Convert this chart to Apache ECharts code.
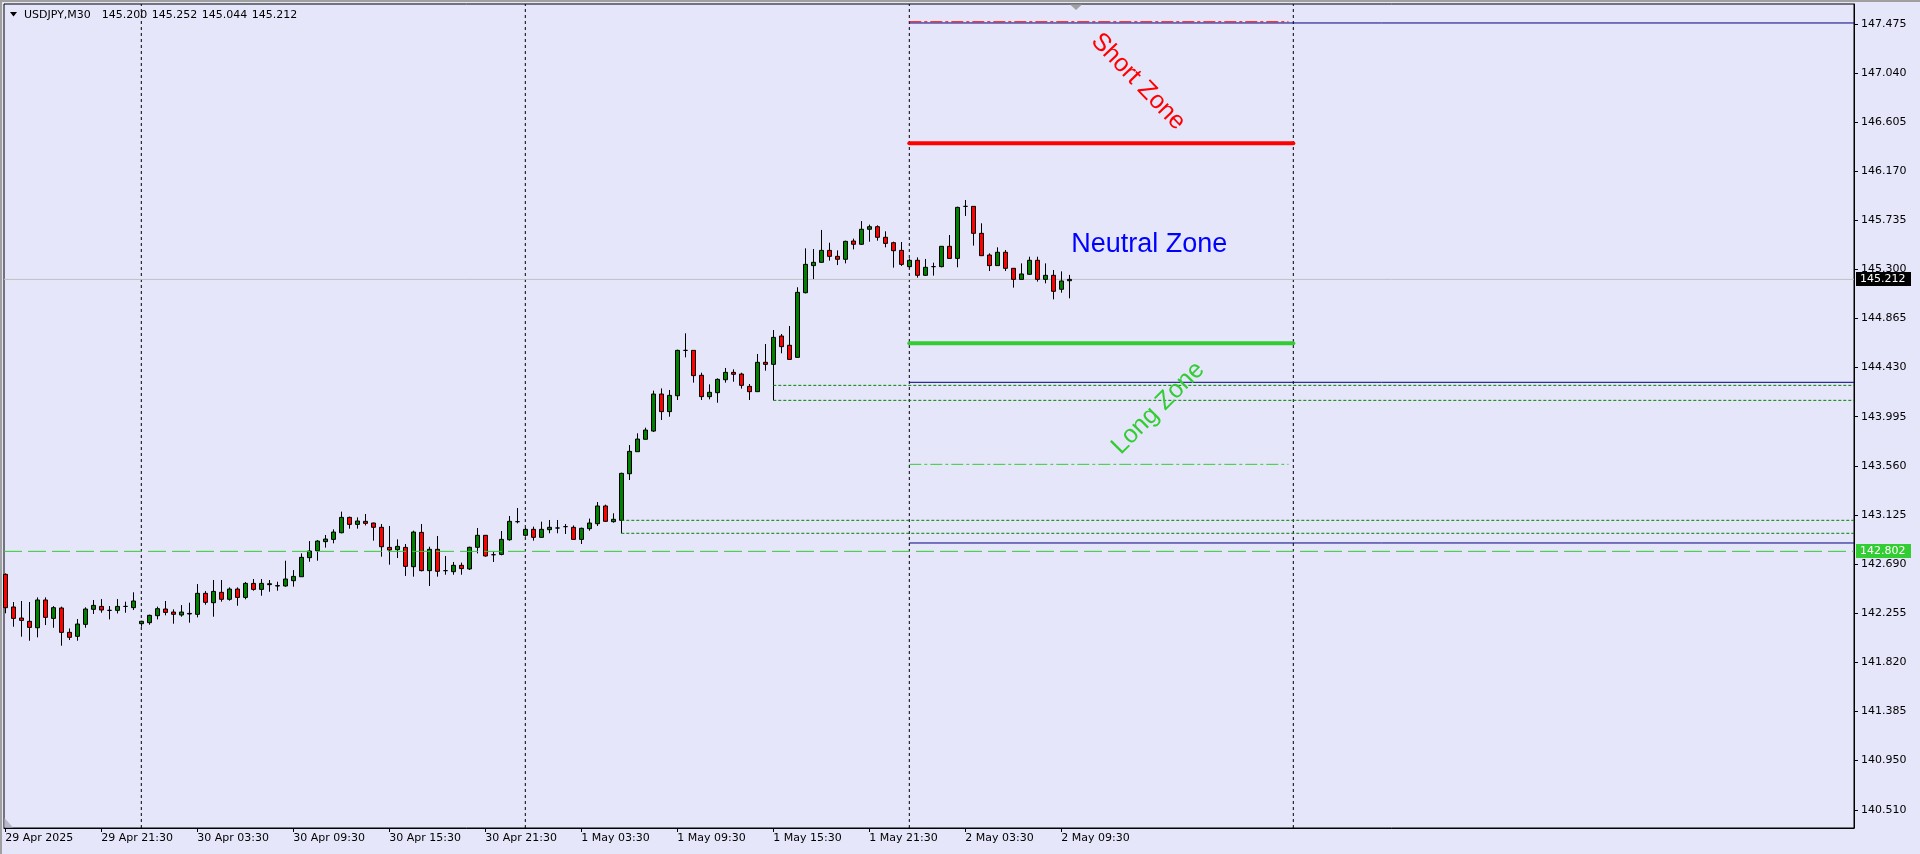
<!DOCTYPE html>
<html><head><meta charset="utf-8">
<script src="https://cdn.jsdelivr.net/npm/echarts@6/dist/echarts.min.js"></script>
<style>html,body{margin:0;padding:0;background:#E6E6FA;overflow:hidden}#chart{width:1920px;height:854px}</style>
</head><body><div id="chart"></div>
<script>
// ---------- data ----------
const symbolTitle = 'USDJPY,M30';
const lastBar = [145.200, 145.252, 145.044, 145.212]; // O H L C
const timeLabels = ['29 Apr 2025','29 Apr 21:30','30 Apr 03:30','30 Apr 09:30','30 Apr 15:30','30 Apr 21:30','1 May 03:30','1 May 09:30','1 May 15:30','1 May 21:30','2 May 03:30','2 May 09:30'];
const timeLabelIdx = [0,12,24,36,48,60,72,84,96,108,120,132];
const priceTicks = [147.475,147.040,146.605,146.170,145.735,145.300,144.865,144.430,143.995,143.560,143.125,142.690,142.255,141.820,141.385,140.950,140.510];
const daySeparators = [17,65,113,161];

const opens = [142.598,142.309,142.211,142.182,142.125,142.371,142.208,142.300,142.084,142.049,
142.155,142.288,142.314,142.279,142.279,142.314,142.303,142.161,142.170,142.232,
142.291,142.264,142.238,142.247,142.244,142.430,142.347,142.439,142.377,142.468,
142.394,142.518,142.465,142.507,142.495,142.495,142.542,142.577,142.746,142.808,
142.888,142.908,142.967,143.103,143.041,143.068,143.053,143.015,142.837,142.817,
142.837,142.666,142.970,142.631,142.820,142.631,142.622,142.678,142.646,142.838,
142.944,142.772,142.775,142.905,143.065,142.944,142.997,142.926,142.994,143.009,
143.021,143.015,142.908,143.003,143.047,143.204,143.065,143.077,143.490,143.685,
143.795,143.868,144.196,144.040,144.181,144.583,144.583,144.362,144.173,144.208,
144.323,144.388,144.373,144.264,144.217,144.477,144.459,144.710,144.628,144.521,
145.094,145.334,145.363,145.469,145.416,145.390,145.552,145.523,145.656,145.679,
145.585,145.537,145.469,145.325,145.381,145.248,145.325,145.325,145.505,145.398,
145.859,145.859,145.620,145.428,145.334,145.452,145.310,145.212,145.257,145.381,
145.212,145.248,145.124,145.200];
const highs = [142.607,142.353,142.362,142.353,142.394,142.394,142.317,142.312,142.119,142.202,
142.306,142.371,142.379,142.317,142.379,142.356,142.439,142.187,142.241,142.312,
142.362,142.288,142.326,142.347,142.512,142.450,142.548,142.548,142.483,142.483,
142.530,142.557,142.557,142.548,142.533,142.719,142.636,142.784,142.893,142.902,
142.947,142.997,143.154,143.109,143.103,143.133,143.056,143.044,143.027,142.908,
142.867,142.985,143.044,142.843,142.938,142.761,142.708,142.702,142.843,143.009,
142.947,142.802,142.982,143.115,143.186,143.012,143.021,143.065,143.080,143.080,
143.044,143.032,143.012,143.092,143.239,143.216,143.139,143.499,143.744,143.848,
143.898,144.226,144.246,144.232,144.589,144.734,144.586,144.385,144.282,144.335,
144.427,144.415,144.385,144.285,144.551,144.639,144.763,144.728,144.799,145.142,
145.487,145.481,145.650,145.537,145.469,145.555,145.573,145.729,145.697,145.691,
145.638,145.546,145.543,145.398,145.407,145.393,145.360,145.508,145.605,145.856,
145.915,145.862,145.709,145.443,145.496,145.472,145.313,145.354,145.413,145.413,
145.354,145.295,145.283,145.252];
const lows = [142.253,142.134,142.046,142.010,142.040,142.149,142.125,141.966,142.016,142.010,
142.125,142.247,142.258,142.199,142.252,142.258,142.282,142.134,142.152,142.199,
142.235,142.161,142.223,142.170,142.217,142.329,142.223,142.356,142.365,142.320,
142.377,142.453,142.409,142.444,142.453,142.489,142.489,142.577,142.710,142.719,
142.835,142.873,142.962,143.003,143.003,143.032,142.897,142.755,142.684,142.743,
142.584,142.578,142.625,142.495,142.578,142.595,142.595,142.595,142.637,142.784,
142.755,142.708,142.767,142.897,143.050,142.932,142.897,142.926,142.962,142.962,
142.956,142.908,142.867,142.985,143.027,143.062,143.056,142.962,143.434,143.685,
143.795,143.860,143.966,143.995,144.143,144.521,144.297,144.143,144.149,144.119,
144.297,144.305,144.244,144.143,144.217,144.403,144.140,144.557,144.503,144.518,
145.088,145.215,145.360,145.378,145.339,145.354,145.478,145.517,145.546,145.555,
145.496,145.316,145.331,145.310,145.227,145.245,145.245,145.319,145.396,145.319,
145.774,145.511,145.422,145.286,145.334,145.286,145.139,145.212,145.254,145.192,
145.177,145.035,145.094,145.044];
const closes = [142.303,142.208,142.190,142.128,142.371,142.217,142.303,142.084,142.040,142.158,
142.291,142.323,142.282,142.279,142.314,142.314,142.362,142.182,142.235,142.294,
142.261,142.244,142.264,142.252,142.430,142.350,142.447,142.377,142.468,142.394,
142.518,142.465,142.518,142.515,142.498,142.557,142.580,142.749,142.805,142.893,
142.911,142.973,143.103,143.041,143.071,143.050,143.015,142.843,142.814,142.846,
142.669,142.973,142.631,142.820,142.625,142.631,142.678,142.649,142.838,142.944,
142.761,142.772,142.908,143.068,143.065,142.997,142.926,142.997,143.015,143.009,
143.021,142.908,143.006,143.053,143.204,143.068,143.086,143.493,143.688,143.797,
143.877,144.196,144.040,144.184,144.583,144.583,144.359,144.173,144.211,144.326,
144.388,144.371,144.273,144.217,144.477,144.459,144.698,144.616,144.503,145.097,
145.345,145.363,145.469,145.416,145.390,145.549,145.523,145.656,145.679,145.585,
145.531,145.466,145.345,145.381,145.248,145.319,145.325,145.505,145.398,145.850,
145.859,145.620,145.422,145.334,145.452,145.310,145.212,145.260,145.381,145.212,
145.248,145.106,145.198,145.212];

// drawn objects (levels in price, spans in bar index)
const zoneSpan = [113, 161];
const shortLevel = 146.418;
const longLevel = 144.646;
const dashDotLevels = [147.495, 143.573];
const navyRays = [147.484, 144.300, 142.876];     // from bar 113 to the right edge
const dottedRaysA = [144.273, 144.140];           // from bar 96
const dottedRaysB = [143.077, 142.962];           // from bar 77
const horizLine = 142.802;
const bidPrice = 145.212;
const zoneTexts = ['Short Zone', 'Neutral Zone', 'Long Zone'];
const zoneTextAnchors = [[141.6, 146.964], [143.0, 145.517], [144.1, 144.072]];

// ---------- chart ----------
const X_MIN = -0.1625, X_MAX = X_MIN + 1850 / 8;
const Y_MAX = 147.475 + 20 / 112.85, Y_MIN = Y_MAX - 824 / 112.85;
const LIME = '#32CD32';

const candleData = opens.map((o, i) => [i, o, closes[i], lows[i], highs[i]]);
const seg = (x1, x2, p) => [[x1, p], [x2, p]];
const lineSeries = (data, style, z) => ({
  type: 'line', data, symbol: 'none', silent: true, animation: false, z: z || 3,
  lineStyle: style, emphasis: { disabled: true }
});

const series = [];
daySeparators.forEach(x => series.push(lineSeries([[x, Y_MIN], [x, Y_MAX]], { color: '#000', width: 1, type: [3, 3] }, 1)));
series.push({
  type: 'candlestick', data: candleData, encode: { x: 0, y: [1, 2, 3, 4] }, barWidth: 4, z: 2,
  silent: true, animation: false,
  itemStyle: { color: '#008000', color0: '#FF0000', borderColor: '#000', borderColor0: '#000', borderColorDoji: '#000', borderWidth: 1 }
});
series.push(lineSeries(seg(X_MIN, X_MAX, bidPrice), { color: '#C0C0C0', width: 1 }, 2));
series.push(lineSeries(seg(X_MIN, X_MAX, horizLine), { color: LIME, width: 1, type: [18, 6] }));
navyRays.forEach(p => series.push(lineSeries(seg(zoneSpan[0], X_MAX, p), { color: '#000080', width: 1 })));
dottedRaysA.forEach(p => series.push(lineSeries(seg(96, X_MAX, p), { color: '#008000', width: 1, type: [3, 2] })));
dottedRaysB.forEach(p => series.push(lineSeries(seg(77, X_MAX, p), { color: '#008000', width: 1, type: [3, 2] })));
series.push(lineSeries(seg(zoneSpan[0], zoneSpan[1] - 0.6, dashDotLevels[0]), { color: '#FF0000', width: 1, type: [12, 3, 3, 3] }));
series.push(lineSeries(seg(zoneSpan[0], zoneSpan[1] - 0.6, dashDotLevels[1]), { color: LIME, width: 1, type: [12, 3, 3, 3] }));
series.push(lineSeries(seg(zoneSpan[0], zoneSpan[1], shortLevel), { color: '#FF0000', width: 4, cap: 'round' }, 4));
series.push(lineSeries(seg(zoneSpan[0], zoneSpan[1], longLevel), { color: LIME, width: 4, cap: 'round' }, 4));

const axisFont = { color: '#000', fontFamily: 'DejaVu Sans', fontSize: 11 };
const chart = echarts.init(document.getElementById('chart'));
chart.setOption({
  animation: false,
  backgroundColor: '#E6E6FA',
  grid: { left: 4, top: 4, width: 1850, height: 824, show: true, borderColor: '#000', borderWidth: 1, backgroundColor: 'transparent' },
  xAxis: {
    type: 'value', min: X_MIN, max: X_MAX, splitLine: { show: false },
    axisLine: { show: true, onZero: false, lineStyle: { color: '#000', width: 1 } },
    axisTick: { show: true, customValues: timeLabelIdx, length: 4, lineStyle: { color: '#000' } },
    axisLabel: Object.assign({ customValues: timeLabelIdx, align: 'left', margin: 5,
      formatter: v => timeLabels[timeLabelIdx.indexOf(Math.round(v))] || '' }, axisFont)
  },
  yAxis: {
    type: 'value', position: 'right', min: Y_MIN, max: Y_MAX, splitLine: { show: false },
    axisLine: { show: true, onZero: false, lineStyle: { color: '#000', width: 1 } },
    axisTick: { show: true, customValues: priceTicks, length: 4, lineStyle: { color: '#000' } },
    axisLabel: Object.assign({ customValues: priceTicks, align: 'left', margin: 7,
      formatter: v => Number(v).toFixed(3) }, axisFont)
  },
  series
});

// ---------- overlays placed through the chart's scales ----------
const px = (x, p) => chart.convertToPixel({ gridIndex: 0 }, [x, p]);
const axisX = px(X_MAX, bidPrice)[0];
const priceBox = (p, fill) => {
  const y = px(X_MAX, p)[1];
  return { type: 'group', z: 50, children: [
    { type: 'rect', shape: { x: axisX + 2, y: Math.round(y) - 7, width: 55, height: 14 }, style: { fill } },
    { type: 'text', x: axisX + 6, y: Math.round(y), style: { text: p.toFixed(3), fill: '#fff', fontFamily: 'DejaVu Sans', fontSize: 11, verticalAlign: 'middle', textVerticalAlign: 'middle' } }
  ]};
};
const zoneColors = ['#FF0000', '#0000FF', LIME];
const zoneAngles = [-46, 0, 45];
const zoneSizes = [25, 27, 25];
const textEls = zoneTexts.map((t, k) => {
  const [x, y] = px(zoneTextAnchors[k][0], zoneTextAnchors[k][1]);
  return { type: 'text', x, y, rotation: zoneAngles[k] * Math.PI / 180, z: 40,
    style: { text: t, fill: zoneColors[k], fontFamily: 'Liberation Sans', fontSize: zoneSizes[k],
      align: 'center', verticalAlign: 'middle', textAlign: 'center', textVerticalAlign: 'middle' } };
});
const headerEls = [
  { type: 'polygon', shape: { points: [[10, 12], [17, 12], [13.5, 16.5]] }, style: { fill: '#000' }, z: 60 },
  { type: 'text', x: 24, y: 15, style: { text: symbolTitle, fill: '#000', fontFamily: 'DejaVu Sans', fontSize: 11, verticalAlign: 'middle', textVerticalAlign: 'middle' }, z: 60 }
].concat(lastBar.map((v, k) => ({ type: 'text', x: 101.7 + 50 * k, y: 15,
  style: { text: v.toFixed(3), fill: '#000', fontFamily: 'DejaVu Sans', fontSize: 11, verticalAlign: 'middle', textVerticalAlign: 'middle' }, z: 60 })));
const frameEls = [
  { type: 'rect', shape: { x: 0, y: 0, width: 1920, height: 2 }, style: { fill: '#A0A0A0' }, z: 70 },
  { type: 'rect', shape: { x: 0, y: 0, width: 2, height: 854 }, style: { fill: '#A0A0A0' }, z: 70 },
  { type: 'polygon', shape: { points: [[1070, 4.5], [1082, 4.5], [1076, 10]] }, style: { fill: '#A0A0A0' }, z: 70 },
  { type: 'polygon', shape: { points: [[4.5, 818], [4.5, 827.5], [13, 827.5]] }, style: { fill: '#B8B8C8' }, z: 70 }
];
chart.setOption({ graphic: { elements: [priceBox(bidPrice, '#000'), priceBox(horizLine, LIME)].concat(textEls, headerEls, frameEls) } });
</script></body></html>
